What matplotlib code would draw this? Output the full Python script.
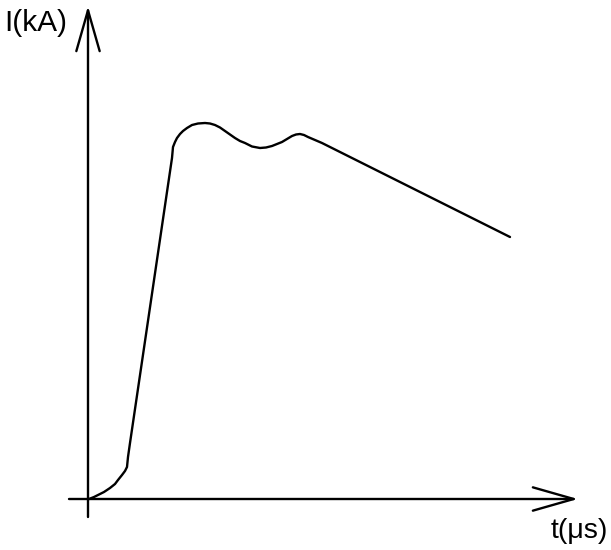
import matplotlib
matplotlib.use('Agg')
import matplotlib.pyplot as plt

plt.rcParams['font.family'] = ['Liberation Sans', 'DejaVu Sans']

# lightning current waveform (arbitrary units)
t_vals = [0, 5, 9, 15, 21, 26, 29, 33, 36, 38, 39, 41, 83, 84, 86, 88, 91, 94, 98,
          103, 109, 116, 121, 126, 131, 136, 141, 146, 151, 156, 163, 171, 177, 183,
          188, 193, 198, 203, 207, 211, 215, 219, 226, 233, 421]
i_vals = [0, 2, 4, 7, 11, 15, 19, 24, 28, 32, 42, 56, 341, 352, 357, 361, 365, 368, 371,
          374, 375.5, 376, 375.5, 374, 371.5, 368, 364.5, 361, 358, 356, 352.5, 351, 351.5, 353,
          355, 357, 360, 363, 364.5, 365, 364, 362, 359, 356, 262]

fig = plt.figure(figsize=(6.11, 5.5), dpi=100)
ax = fig.add_axes([0, 0, 1, 1])
ax.set_xlim(-89, 522)
ax.set_ylim(-51, 499)
ax.axis('off')

# axes with open arrowheads
arrow = dict(arrowstyle='->, head_length=1.47, head_width=0.42', lw=1.7,
             color='black', mutation_scale=20, shrinkA=0, shrinkB=0)
ax.annotate('', xy=(489, 0), xytext=(-20, 0), arrowprops=arrow)
ax.annotate('', xy=(-1, 493), xytext=(-1, -18), arrowprops=arrow)

ax.plot(t_vals, i_vals, color='black', lw=1.7, solid_joinstyle='round',
        solid_capstyle='round')

ax.text(-85, 476, 'I(kA)', fontsize=21.5, ha='left', va='center')
ax.text(490, -32, 't(μs)', fontsize=20.5, ha='center', va='center')

fig.savefig('out.png', dpi=100, facecolor='white')
